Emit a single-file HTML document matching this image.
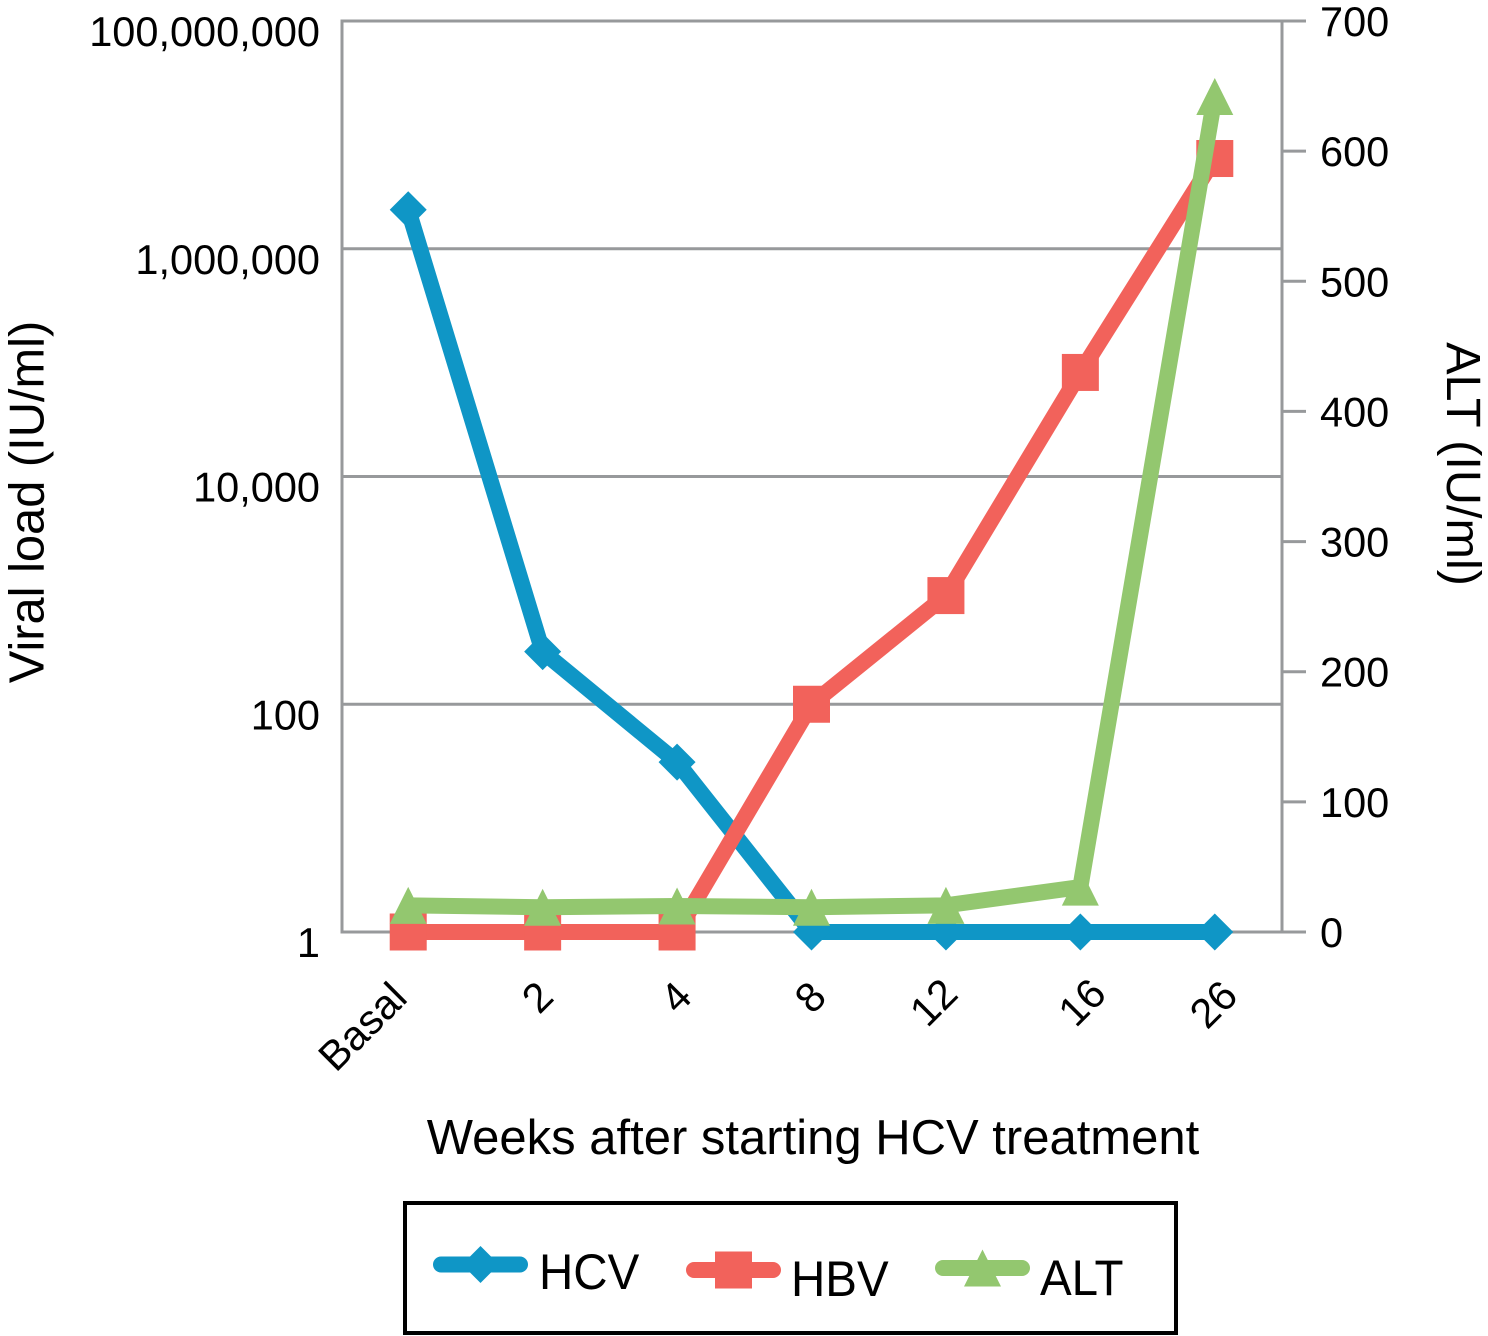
<!DOCTYPE html>
<html lang="en">
<head>
<meta charset="utf-8">
<title>Viral load and ALT after starting HCV treatment</title>
<style>
html,body{margin:0;padding:0;background:#fff;}
svg{display:block;font-family:"Liberation Sans",sans-serif;fill:#000;}
</style>
</head>
<body>
<svg id="chart" xmlns="http://www.w3.org/2000/svg" width="1488" height="1336" viewBox="0 0 1488 1336"></svg>
<script>
const categories = ['Basal', '2', '4', '8', '12', '16', '26'];
const hcvValues = [2200000, 290, 31, 1, 1, 1, 1];
const hbvValues = [1, 1, 1, 100, 900, 82000, 6200000];
const altValues = [20.5, 19, 20, 19, 20.5, 34.5, 642];
const leftTickValues = [1, 100, 10000, 1000000, 100000000];
const leftTickLabels = ['1', '100', '10,000', '1,000,000', '100,000,000'];
const rightTickValues = [0, 100, 200, 300, 400, 500, 600, 700];
const seriesNames = ['HCV', 'HBV', 'ALT'];

const NS = 'http://www.w3.org/2000/svg';
const svg = document.getElementById('chart');
const plotLeft = 341, plotRight = 1282, plotTop = 21, plotBottom = 932;
const GRAY = '#97999b';
const COLORS = {HCV: '#0f96c6', HBV: '#f2625b', ALT: '#93c76f'};

function xScale(i) {
  return plotLeft + (plotRight - plotLeft) * (i + 0.5) / categories.length;
}
function yLog(v) {
  return plotBottom - (plotBottom - plotTop) * Math.log10(v) / 8;
}
function yAlt(v) {
  return plotBottom - (plotBottom - plotTop) * v / 700;
}
function make(tag, attrs, parent) {
  const el = document.createElementNS(NS, tag);
  for (const k in attrs) el.setAttribute(k, attrs[k]);
  (parent || svg).appendChild(el);
  return el;
}
function drawMarker(name, cx, cy, parent) {
  let m;
  if (name === 'HCV') {
    m = make('polygon', {points: `${cx},${cy - 18.5} ${cx + 18.5},${cy} ${cx},${cy + 18.5} ${cx - 18.5},${cy}`, fill: COLORS.HCV}, parent);
  } else if (name === 'HBV') {
    m = make('rect', {x: cx - 18.5, y: cy - 18.5, width: 37, height: 37, fill: COLORS.HBV}, parent);
  } else {
    m = make('polygon', {points: `${cx},${cy - 18.5} ${cx + 18.5},${cy + 18.5} ${cx - 18.5},${cy + 18.5}`, fill: COLORS.ALT}, parent);
  }
  return m;
}
function labelNudge(label) {
  const nudges = {Basal: [-11, -2], '2': [1, -3], '4': [5, -3], '8': [5, -3], '12': [2, -6], '16': [16, -6], '26': [13, -4]};
  return nudges[label] || [0, 0];
}

/* axes and gridlines */
const gridGroup = make('g', {stroke: GRAY, 'stroke-width': 3, fill: 'none'});



leftTickValues.forEach(function (v) {
  const y = yLog(v);
  const line = make('line', {x1: plotLeft, x2: plotRight, y1: y, y2: y}, gridGroup);
  
  
});
const leftAxis = make('line', {x1: plotLeft + 1, x2: plotLeft + 1, y1: plotTop - 1.5, y2: plotBottom + 1.5}, gridGroup);


const rightAxis = make('line', {x1: plotRight, x2: plotRight, y1: plotTop - 1.5, y2: plotBottom + 1.5}, gridGroup);


rightTickValues.forEach(function (v) {
  const y = yAlt(v);
  const tick = make('line', {x1: plotRight, x2: plotRight + 24, y1: y, y2: y}, gridGroup);
  
  
});

/* tick labels */
leftTickValues.forEach(function (v, i) {
  const t = make('text', {x: 320, y: yLog(v) + 25, 'text-anchor': 'end', 'font-size': 41.5});
  
  
  t.textContent = leftTickLabels[i];
});
rightTickValues.forEach(function (v) {
  const t = make('text', {x: 1320, y: yAlt(v) + 15, 'text-anchor': 'start', 'font-size': 41.5});
  
  
  t.textContent = String(v);
});
categories.forEach(function (c, i) {
  const nudge = labelNudge(c);
  const ax = xScale(i) + 12 + nudge[0];
  const ay = 1002 + nudge[1];
  const t = make('text', {x: ax, y: ay, 'text-anchor': 'end', 'font-size': 41.5, transform: `rotate(-45 ${ax} ${ay})`});
  
  
  t.textContent = c;
});

/* series */
function drawSeries(name, values, yFn) {
  const g = make('g', {});
  
  
  const pts = values.map(function (v, i) { return xScale(i) + ',' + yFn(v); }).join(' ');
  const line = make('polyline', {points: pts, fill: 'none', stroke: COLORS[name], 'stroke-width': 16, 'stroke-linejoin': 'round', 'stroke-linecap': 'butt'}, g);
  
  
  values.forEach(function (v, i) {
    const m = drawMarker(name, xScale(i), yFn(v), g);
    
    
  });
}
drawSeries('HCV', hcvValues, yLog);
drawSeries('HBV', hbvValues, yLog);
drawSeries('ALT', altValues, yAlt);

/* axis titles */
const yTitle = make('text', {x: 43.5, y: 502, 'text-anchor': 'middle', 'font-size': 48.8, transform: 'rotate(-90 43.5 502)'});


yTitle.textContent = 'Viral load (IU/ml)';

const y2Title = make('text', {x: 1447, y: 464, 'text-anchor': 'middle', 'font-size': 48.6, transform: 'rotate(90 1447 464)'});


y2Title.textContent = 'ALT (IU/ml)';

const xTitle = make('text', {x: 813, y: 1154, 'text-anchor': 'middle', 'font-size': 49});


xTitle.textContent = 'Weeks after starting HCV treatment';

/* legend */
const legend = make('g', {});


const legendBox = make('rect', {x: 405, y: 1203, width: 771, height: 130, fill: 'none', stroke: '#000', 'stroke-width': 4}, legend);



const legendLineStart = [441, 694, 943];
const legendRowY = [1264.5, 1270, 1268];
const legendTextX = [539, 791, 1040];
const legendTextY = [1289, 1296, 1295];
seriesNames.forEach(function (name, i) {
  const g = make('g', {}, legend);
  
  
  const l = make('line', {x1: legendLineStart[i], x2: legendLineStart[i] + 79, y1: legendRowY[i], y2: legendRowY[i], stroke: COLORS[name], 'stroke-width': 16, 'stroke-linecap': 'round'}, g);
  
  
  const m = drawMarker(name, legendLineStart[i] + 39.5, legendRowY[i], g);
  
  
  const t = make('text', {'font-size': 50, transform: `translate(${legendTextX[i]} ${legendTextY[i]}) scale(0.95 1)`}, g);
  
  
  t.textContent = name;
});
</script>
</body>
</html>
